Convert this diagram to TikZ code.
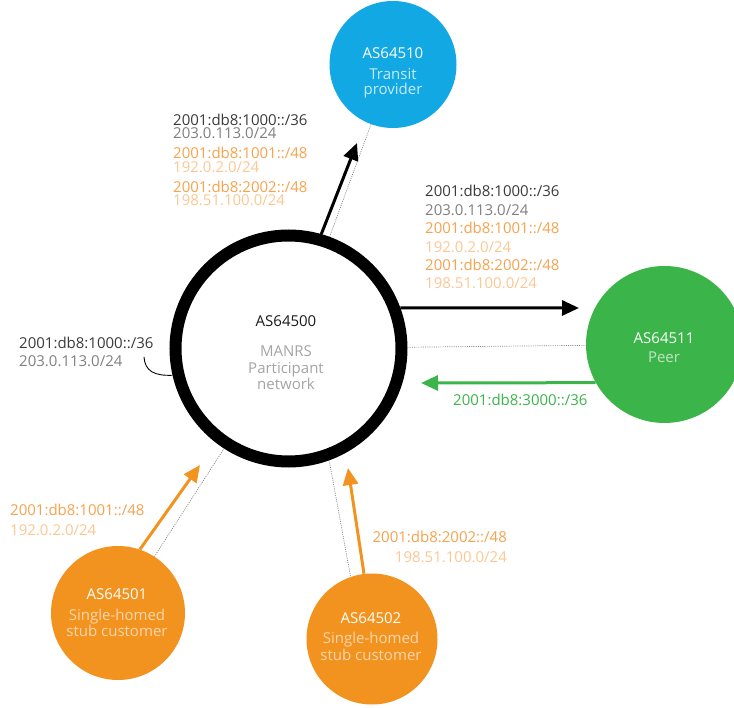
\documentclass[tikz,border=0pt]{standalone}
\usepackage{fontspec}
\setmainfont{Open Sans}
\usetikzlibrary{arrows.meta}
\definecolor{cblue}{HTML}{12A8E4}
\definecolor{cgreen}{HTML}{3BB44A}
\definecolor{corange}{HTML}{F3931F}
\definecolor{cdark}{HTML}{3A3A3A}
\definecolor{cgray}{HTML}{808080}
\definecolor{corangetxt}{HTML}{F6A24E}
\definecolor{clightor}{HTML}{FBC792}
\definecolor{cbluetxt}{HTML}{C6EAF9}
\definecolor{cgreentxt}{HTML}{C0E4C3}
\definecolor{corangein}{HTML}{FCD6AC}
\definecolor{cmaintxt}{HTML}{A4A4A4}
\definecolor{cblacktxt}{HTML}{1A1A1A}
\lineskiplimit=-30pt\relax
\begin{document}
\lineskiplimit=-30pt\relax
\begin{tikzpicture}[x=1pt,y=-1pt,
  ring/.style={circle, draw=black, line width=12pt, minimum size=226pt, inner sep=0pt},
  bubble/.style={circle, inner sep=0pt, draw=none},
  dots/.style={draw=cgray, line width=0.7pt, dash pattern=on 1pt off 1.2pt},
  flow/.style={line width=3pt, -{Triangle[length=17pt,width=15pt]}},
  lbl/.style={inner sep=0pt, anchor=base west, align=left, font=\fontsize{15}{18.5}\selectfont},
  intext/.style={inner sep=0pt, anchor=base, align=center, font=\fontsize{15}{16.5}\selectfont}]
\useasboundingbox (0,0) rectangle (734,708);
\clip (0,0) rectangle (734,708);
% circles
\node[ring] (main) at (288.5,348.5) {};
\node[bubble, fill=cblue, minimum size=127pt] (transit) at (393,64.5) {};
\node[bubble, fill=cgreen, minimum size=157pt] (peer) at (664.5,344.5) {};
\node[bubble, fill=corange, minimum size=134pt] (cust1) at (118,613) {};
\node[bubble, fill=corange, minimum size=131pt] (cust2) at (372,639) {};
% arrow tips
\coordinate (tipT) at (357,143);
\coordinate (tipP) at (579,308);
\coordinate (tipG) at (421,383);
\coordinate (tip1) at (200,465);
\coordinate (tip2) at (348,468);
\coordinate (hook) at (144,357);
% dotted session lines
\draw[dots] (main) -- (transit);
\draw[dots] (main) -- (peer);
\draw[dots] (main) -- (cust1);
\draw[dots] (main.-70) -- (cust2.109);
% announcements
\draw[flow, black] (main.74) -- (tipT);
\draw[flow, black] (main.20) -- (tipP);
\draw[flow, cgreen] (peer.209) -- (tipG);
\draw[flow, corange] (cust1.71) -- (tip1);
\draw[flow, corange] (cust2.97) -- (tip2);
\draw[black, line width=0.9pt] (hook) .. controls (145,371) and (154,376) .. (main.193);
% circle texts (anchor = baseline of the last line)
\node[intext] (tMain) at (286,390) {\textcolor{cblacktxt}{AS64500}\\[13.5pt]\textcolor{cmaintxt}{MANRS}\\\textcolor{cmaintxt}{Participant}\\\textcolor{cmaintxt}{network}};
\node[intext, font=\fontsize{15}{15.5}\selectfont] (tTransit) at (393,95) {\textcolor{white}{AS64510}\\[5pt]\textcolor{cbluetxt}{Transit}\\\textcolor{cbluetxt}{provider}};
\node[intext] (tPeer) at (664,362.7) {\textcolor{white}{AS64511}\\[3pt]\textcolor{cgreentxt}{Peer}};
\node[intext] (tCust1) at (117,636.7) {\textcolor{white}{AS64501}\\[4pt]\textcolor{corangein}{Single-homed}\\\textcolor{corangein}{stub customer}};
\node[intext] (tCust2) at (371,660) {\textcolor{white}{AS64502}\\[3.5pt]\textcolor{corangein}{Single-homed}\\\textcolor{corangein}{stub customer}};
% route labels (anchor = baseline of the last line)
\node[lbl, font=\fontsize{15}{13.5}\selectfont] (rTransit) at (173,206) {\textcolor{cdark}{2001:db8:1000::/36}\\\textcolor{cgray}{203.0.113.0/24}\\[6.5pt]\textcolor{corangetxt}{2001:db8:1001::/48}\\\textcolor{clightor}{192.0.2.0/24}\\[6.5pt]\textcolor{corangetxt}{2001:db8:2002::/48}\\\textcolor{clightor}{198.51.100.0/24}};
\node[lbl, font=\fontsize{15}{18.4}\selectfont] (rPeer) at (425,289) {\textcolor{cdark}{2001:db8:1000::/36}\\\textcolor{cgray}{203.0.113.0/24}\\\textcolor{corangetxt}{2001:db8:1001::/48}\\\textcolor{clightor}{192.0.2.0/24}\\\textcolor{corangetxt}{2001:db8:2002::/48}\\\textcolor{clightor}{198.51.100.0/24}};
\node[lbl] (rOwn) at (19,367) {\textcolor{cdark}{2001:db8:1000::/36}\\\textcolor{cgray}{203.0.113.0/24}};
\node[lbl] (rGreen) at (453,405.5) {\textcolor{cgreen}{2001:db8:3000::/36}};
\node[lbl, font=\fontsize{15}{20.5}\selectfont] (rCust1) at (10,536) {\textcolor{corangetxt}{2001:db8:1001::/48}\\\textcolor{clightor}{192.0.2.0/24}};
\node[lbl, anchor=base east, align=right, font=\fontsize{15}{20}\selectfont] (rCust2) at (507,562) {\textcolor{corangetxt}{2001:db8:2002::/48}\\\textcolor{clightor}{198.51.100.0/24}};
\end{tikzpicture}
\end{document}
